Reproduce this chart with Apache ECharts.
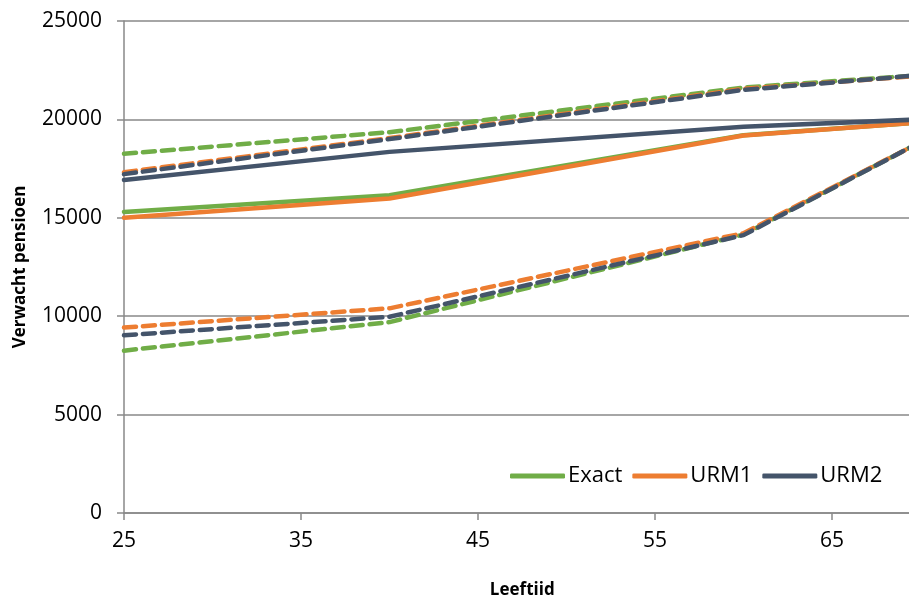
<!DOCTYPE html>
<html>
<head>
<meta charset="utf-8">
<script src="https://cdn.jsdelivr.net/npm/echarts@6/dist/echarts.min.js"></script>
<style>
  html, body { margin: 0; padding: 0; background: #fff; }
  #chart { width: 909px; height: 595px; }
</style>
</head>
<body>
<div id="chart"></div>
<script>
// Data
const ages = [25, 40, 60, 70]

const exact = [15300, 16150, 19200, 19850]
const exactHigh = [18250, 19350, 21620, 22250]
const exactLow = [8250, 9700, 14150, 18850]

const urm1 = [15000, 15980, 19180, 19850]
const urm1High = [17320, 19050, 21550, 22220]
const urm1Low = [9420, 10400, 14220, 18850]

const urm2 = [16920, 18350, 19630, 20000]
const urm2High = [17220, 19000, 21500, 22250]
const urm2Low = [9030, 9970, 14120, 18850]

const yTicks = [0, 5000, 10000, 15000, 20000, 25000]

const GREEN = '#70ad47'
const ORANGE = '#ed7d31'
const NAVY = '#44546a'
const FONT = "'Open Sans', sans-serif"

const toPairs = (vals) => ages.map((a, i) => [a, vals[i]])

const makeSeries = (name, vals, color, dashed) => ({
  name: name,
  type: 'line',
  data: toPairs(vals),
  symbol: 'none',
  silent: true,
  lineStyle: {
    color: color,
    width: 4.5,
    type: dashed ? [12, 7] : 'solid',
    cap: 'round',
    join: 'round'
  },
  itemStyle: { color: color }
})

const chart = echarts.init(document.getElementById('chart'))

chart.setOption({
  animation: false,
  grid: {
    left: 124,
    right: -11.5,
    top: 21,
    bottom: 82,
    containLabel: false,
    outerBoundsMode: 'none'
  },
  legend: {
    data: ['Exact', 'URM1', 'URM2'],
    left: 505,
    top: 460,
    itemWidth: 55,
    itemHeight: 5,
    itemGap: 10,
    icon: 'roundRect',
    textStyle: { fontFamily: FONT, fontSize: 22, color: '#000', padding: [0, 0, 0, -2] }
  },
  xAxis: {
    type: 'value',
    min: 25,
    max: 70,
    interval: 10,
    name: 'Leeftijd',
    nameLocation: 'middle',
    nameGap: 69,
    nameTextStyle: { fontFamily: FONT, fontSize: 17, fontWeight: 'bold', color: '#000' },
    axisLine: { show: true, onZero: false, lineStyle: { color: '#898989', width: 1.5 } },
    axisTick: { show: true, length: 7, lineStyle: { color: '#898989', width: 1.5 } },
    axisLabel: {
      fontFamily: FONT, fontSize: 21, color: '#000', margin: 18,
      showMaxLabel: false
    },
    splitLine: { show: false }
  },
  yAxis: {
    type: 'value',
    min: yTicks[0],
    max: yTicks[yTicks.length - 1],
    interval: 5000,
    name: 'Verwacht pensioen',
    nameLocation: 'middle',
    nameGap: 95,
    nameTextStyle: { fontFamily: FONT, fontSize: 17, fontWeight: 'bold', color: '#000' },
    axisLine: { show: true, lineStyle: { color: '#898989', width: 1.5 } },
    axisTick: { show: true, length: 7, lineStyle: { color: '#898989', width: 1.5 } },
    axisLabel: {
      fontFamily: FONT, fontSize: 21, color: '#000', margin: 22,
      formatter: (v) => String(v)
    },
    splitLine: { show: true, lineStyle: { color: '#898989', width: 1.5 } }
  },
  series: [
    makeSeries('Exact', exact, GREEN, false),
    makeSeries('Exact hoog', exactHigh, GREEN, true),
    makeSeries('Exact laag', exactLow, GREEN, true),
    makeSeries('URM1', urm1, ORANGE, false),
    makeSeries('URM1 hoog', urm1High, ORANGE, true),
    makeSeries('URM1 laag', urm1Low, ORANGE, true),
    makeSeries('URM2', urm2, NAVY, false),
    makeSeries('URM2 hoog', urm2High, NAVY, true),
    makeSeries('URM2 laag', urm2Low, NAVY, true)
  ]
})
</script>
</body>
</html>
